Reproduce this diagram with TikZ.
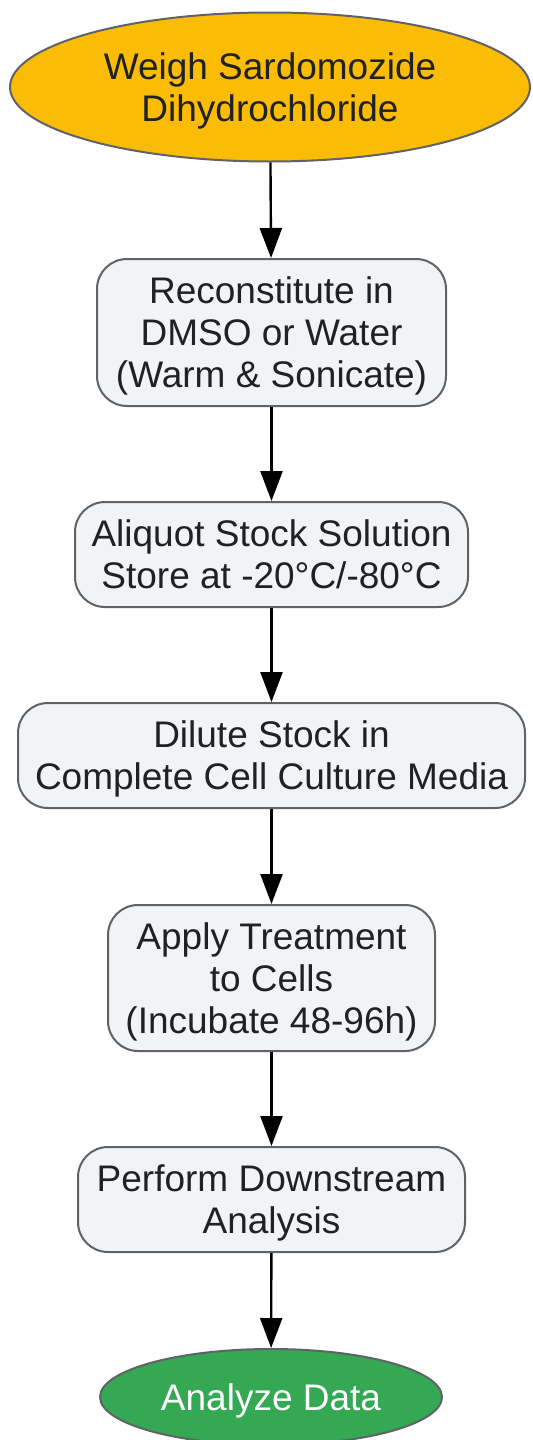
\documentclass[tikz,border=0pt]{standalone}
\usepackage{fontspec}
\setmainfont{Liberation Sans}
\usetikzlibrary{arrows.meta,shapes.geometric}
\definecolor{Y1}{HTML}{FBBC05}
\definecolor{G1}{HTML}{34A853}
\definecolor{B1}{HTML}{F1F3F4}
\definecolor{E1}{HTML}{5F6368}
\definecolor{T1}{HTML}{202124}

\begin{document}
\begin{tikzpicture}[x=0.5pt,y=-0.5pt,
    stepbox/.style={draw=E1, line width=1pt, fill=B1, rounded corners=15pt,
      text=T1, align=center, inner sep=0pt, text depth=0pt, font=\fontsize{18.5}{21}\selectfont},
    endcap/.style={ellipse, draw=E1, line width=1pt, align=center, inner sep=0pt,
      text depth=0pt, font=\fontsize{18.5}{21}\selectfont},
    flow/.style={line width=1.2pt, -{Triangle[length=15pt,width=11pt]}}]
      \useasboundingbox (0,0) rectangle (532,1440);
      \node[endcap, fill=Y1, text=T1, minimum width=260pt, minimum height=74.5pt] (weigh) at (270,87)
        {Weigh Sardomozide\\Dihydrochloride};
      \node[stepbox, minimum width=174.5pt, minimum height=73.5pt] (recon) at (271.5,332.5)
        {Reconstitute in\\DMSO or Water\\(Warm \& Sonicate)};
      \node[stepbox, minimum width=196.5pt, minimum height=52.5pt] (aliq) at (271.5,554.5)
        {Aliquot Stock Solution\\Store at -20°C/-80°C};
      \node[stepbox, minimum width=253.5pt, minimum height=52.5pt] (dilute) at (271.5,755.5)
        {Dilute Stock in\\Complete Cell Culture Media};
      \node[stepbox, minimum width=163.5pt, minimum height=73pt] (apply) at (271.5,978)
        {Apply Treatment\\to Cells\\(Incubate 48-96h)};
      \node[stepbox, minimum width=193.5pt, minimum height=52.5pt] (perf) at (271.5,1199.5)
        {Perform Downstream\\Analysis};
      \node[endcap, fill=G1, text=white, minimum width=171pt, minimum height=48pt] (analyze) at (271,1397)
        {Analyze Data};
      \draw[flow] (weigh) -- (recon);
      \draw[flow] (recon) -- (aliq);
      \draw[flow] (aliq) -- (dilute);
      \draw[flow] (dilute) -- (apply);
      \draw[flow] (apply) -- (perf);
      \draw[flow] (perf) -- (analyze);
    \end{tikzpicture}
\end{document}
